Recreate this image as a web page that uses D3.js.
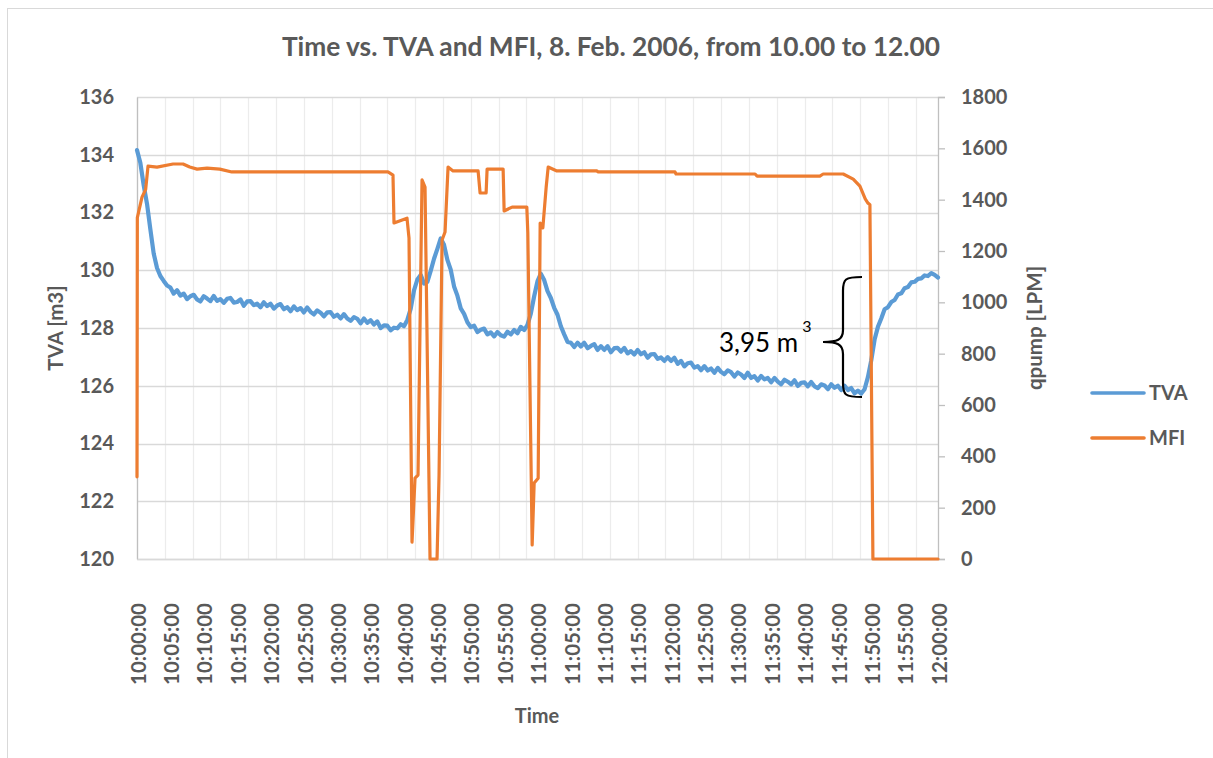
<!DOCTYPE html>
<html>
<head>
<meta charset="utf-8">
<script src="https://cdn.jsdelivr.net/npm/d3@7"></script>
<style>
  html, body { margin: 0; padding: 0; background: #fff; }
  svg { display: block; font-family: Lato, "Open Sans", sans-serif; }
</style>
</head>
<body>
<svg id="chart" width="1213" height="758"></svg>
<script>
// Minutes after 10:00, one TVA sample every 30 seconds (0 .. 120 min)
const tvaStep = 0.5;
const tvaValues = [
  134.16, 133.72, 132.95, 132.30, 131.42, 130.58, 130.08, 129.80, 129.63, 129.47,
  129.40, 129.19, 129.31, 129.12, 129.19, 129.00, 129.10, 129.15, 128.99, 128.92,
  129.10, 129.02, 128.93, 129.11, 128.94, 129.00, 128.87, 129.01, 129.04, 128.88,
  128.90, 128.99, 128.77, 128.92, 128.93, 128.79, 128.84, 128.72, 128.89, 128.76,
  128.84, 128.67, 128.78, 128.83, 128.65, 128.72, 128.58, 128.75, 128.62, 128.69,
  128.54, 128.71, 128.56, 128.47, 128.61, 128.53, 128.40, 128.54, 128.55, 128.39,
  128.46, 128.33, 128.48, 128.33, 128.25, 128.38, 128.32, 128.16, 128.33, 128.18,
  128.27, 128.12, 128.23, 128.00, 128.09, 128.08, 127.92, 128.01, 127.99, 128.13,
  128.06, 128.28, 128.66, 129.30, 129.68, 129.84, 129.54, 129.60, 129.98, 130.40,
  130.74, 131.10, 130.88, 130.36, 130.02, 129.44, 129.12, 128.68, 128.49, 128.20,
  128.03, 128.08, 127.86, 127.94, 127.98, 127.78, 127.85, 127.71, 127.86, 127.75,
  127.70, 127.87, 127.78, 127.93, 127.82, 128.04, 127.93, 128.11, 128.50, 129.10,
  129.62, 129.88, 129.66, 129.28, 129.04, 128.70, 128.46, 128.06, 127.78, 127.52,
  127.49, 127.34, 127.49, 127.36, 127.49, 127.30, 127.38, 127.44, 127.24, 127.37,
  127.24, 127.37, 127.16, 127.30, 127.31, 127.18, 127.31, 127.12, 127.20, 127.08,
  127.24, 127.09, 127.16, 126.97, 127.09, 127.10, 126.93, 126.98, 126.86, 126.99,
  126.86, 126.97, 126.76, 126.86, 126.67, 126.78, 126.80, 126.63, 126.68, 126.54,
  126.68, 126.53, 126.60, 126.45, 126.62, 126.48, 126.40, 126.53, 126.47, 126.32,
  126.46, 126.39, 126.27, 126.45, 126.27, 126.33, 126.18, 126.34, 126.22, 126.27,
  126.12, 126.27, 126.14, 126.05, 126.21, 126.14, 126.05, 126.19, 125.99, 126.10,
  126.12, 125.98, 126.13, 125.98, 125.92, 126.05, 126.01, 125.88, 126.05, 125.93,
  126.00, 125.85, 126.00, 125.85, 125.92, 125.74, 125.83, 125.73, 125.88, 126.30,
  126.88, 127.60, 128.04, 128.33, 128.65, 128.72, 128.90, 128.97, 129.16, 129.20,
  129.38, 129.42, 129.58, 129.60, 129.70, 129.72, 129.82, 129.80, 129.90, 129.84,
  129.75
];

// MFI pump flow [LPM]: minutes after 10:00 and flow at each change point
const mfiTimes = [
  0, 0.05, 0.75, 1.3, 1.65, 3.0, 5.4, 6.9, 7.9, 9.0, 10.5, 12.4, 14.2,
  37.6, 38.35, 38.5, 40.45, 40.75, 41.2, 41.65, 42.1, 42.7, 43.15, 43.9,
  44.95, 45.25, 45.7, 46.15, 46.6, 47.35, 51.1, 51.4, 52.3, 52.45, 54.85,
  55.0, 56.2, 58.4, 58.55, 59.2, 59.5, 60.1, 60.4, 60.8, 61.3, 61.6, 62.9,
  68.9, 69.05, 80.6, 80.75, 92.6, 92.9, 102.3, 102.8, 105.8, 107.3, 108.3,
  109.1, 109.5, 109.8, 110.25, 120
];
const mfiValues = [
  320, 1330, 1410, 1440, 1531, 1527, 1539, 1539, 1527, 1519, 1523, 1519, 1508,
  1508, 1496, 1309, 1328, 1250, 66, 315, 327, 1477, 1449, 0,
  0, 327, 1243, 1274, 1527, 1512, 1512, 1426, 1426, 1519, 1519,
  1356, 1371, 1371, 1270, 55, 296, 315, 1309, 1290, 1449, 1527, 1512,
  1512, 1508, 1508, 1500, 1500, 1492, 1492, 1500, 1500, 1480, 1453,
  1403, 1387, 1380, 0, 0
];

const leftTicks = [120, 122, 124, 126, 128, 130, 132, 134, 136];
const rightTicks = [0, 200, 400, 600, 800, 1000, 1200, 1400, 1600, 1800];
const timeTicks = d3.range(0, 121, 5);          // minutes, one label every 5 min
const gridMinutes = d3.range(0, 120.01, 25 / 6); // category gridlines every 250 s

const titleText = "Time vs. TVA and MFI, 8. Feb. 2006, from 10.00 to 12.00";
const seriesNames = ["TVA", "MFI"];
const seriesColors = ["#5b9bd5", "#ed7d31"];

const tvaData = tvaValues.map((v, i) => ({ t: i * tvaStep, v }));
const mfiData = mfiTimes.map((t, i) => ({ t, v: mfiValues[i] }));

const svg = d3.select("#chart");
const plot = { left: 137, right: 938, top: 97, bottom: 559 };
const textColor = "#595959";
const font = "Lato, sans-serif";

// chart frame
svg.append("rect")
  .attr("x", 7.5).attr("y", 8.5)
  .attr("width", 1230).attr("height", 780)
  .attr("fill", "#fff").attr("stroke", "#d9d9d9").attr("stroke-width", 1);

const x = d3.scaleLinear().domain([0, 120]).range([plot.left, plot.right]);
const yL = d3.scaleLinear().domain([120, 136]).range([plot.bottom, plot.top]);
const yR = d3.scaleLinear().domain([0, 1800]).range([plot.bottom, plot.top]);

// vertical gridlines
svg.append("g")
  .selectAll("line").data(gridMinutes).join("line")
  .attr("x1", d => Math.round(x(d)) + 0.5).attr("x2", d => Math.round(x(d)) + 0.5)
  .attr("y1", plot.top).attr("y2", plot.bottom)
  .attr("stroke", "#ececec").attr("stroke-width", 1.2);

// horizontal gridlines
svg.append("g")
  .selectAll("line").data(leftTicks).join("line")
  .attr("x1", plot.left).attr("x2", plot.right)
  .attr("y1", d => Math.round(yL(d)) + 0.5).attr("y2", d => Math.round(yL(d)) + 0.5)
  .attr("stroke", "#d9d9d9").attr("stroke-width", 1.3);

// left axis
const gL = svg.append("g").attr("transform", `translate(${plot.left},0)`)
  .call(d3.axisLeft(yL).tickValues(leftTicks).tickSize(0).tickPadding(23).tickFormat(d3.format("d")));
gL.select(".domain").attr("stroke", "#bfbfbf").attr("stroke-width", 1.3);
gL.selectAll("text").attr("fill", textColor).attr("font-size", 20).attr("font-weight", 700)
  .attr("font-family", font);

// right axis
const gR = svg.append("g").attr("transform", `translate(${plot.right},0)`)
  .call(d3.axisRight(yR).tickValues(rightTicks).tickSize(7).tickPadding(16).tickFormat(d3.format("d")));
gR.select(".domain").attr("stroke", "#bfbfbf").attr("stroke-width", 1.3);
gR.selectAll(".tick line").attr("stroke", "#bfbfbf").attr("stroke-width", 1.3);
gR.selectAll("text").attr("fill", textColor).attr("font-size", 20).attr("font-weight", 700)
  .attr("font-family", font);

// bottom axis
const fmtTime = m => {
  const h = 10 + Math.floor(m / 60), mm = m % 60;
  return `${h}:${String(mm).padStart(2, "0")}:00`;
};
const gB = svg.append("g").attr("transform", `translate(0,${plot.bottom})`)
  .call(d3.axisBottom(x).tickValues(timeTicks).tickSize(0).tickFormat(fmtTime));
gB.select(".domain").attr("stroke", "#d9d9d9").attr("stroke-width", 1.3);
gB.selectAll("text")
  .attr("fill", textColor).attr("font-size", 20.5).attr("font-weight", 700)
  .attr("font-family", font)
  .attr("text-anchor", "end")
  .attr("transform", "translate(1,44) rotate(-90)")
  .attr("x", 0).attr("y", 0).attr("dy", "0.35em");

// series
const tvaLine = d3.line().x(d => x(d.t)).y(d => yL(d.v));
const mfiLine = d3.line().x(d => x(d.t)).y(d => yR(d.v));

svg.append("path").datum(tvaData)
  .attr("d", tvaLine).attr("fill", "none")
  .attr("stroke", seriesColors[0]).attr("stroke-width", 4.2)
  .attr("stroke-linejoin", "round").attr("stroke-linecap", "round");

svg.append("path").datum(mfiData)
  .attr("d", mfiLine).attr("fill", "none")
  .attr("stroke", seriesColors[1]).attr("stroke-width", 3.2)
  .attr("stroke-linejoin", "round").attr("stroke-linecap", "round");

// title
svg.append("text").attr("x", 611).attr("y", 56).attr("text-anchor", "middle")
  .attr("fill", textColor).attr("font-size", 26.3).attr("font-weight", 700)
  .text(titleText);

// axis titles
svg.append("text").attr("transform", "translate(63,328) rotate(-90)")
  .attr("text-anchor", "middle").attr("fill", textColor)
  .attr("font-size", 20.5).attr("font-weight", 700).text("TVA [m3]");
svg.append("text").attr("transform", "translate(1042,328) rotate(-90)")
  .attr("text-anchor", "middle").attr("fill", textColor)
  .attr("font-size", 20.5).attr("font-weight", 700).text("qpump [LPM]");
svg.append("text").attr("x", 537).attr("y", 723)
  .attr("text-anchor", "middle").attr("fill", textColor)
  .attr("font-size", 20).attr("font-weight", 700).text("Time");

// legend
const legend = svg.append("g");
seriesNames.forEach((name, i) => {
  const ly = 393 + i * 45;
  legend.append("line").attr("x1", 1092).attr("x2", 1144)
    .attr("y1", ly).attr("y2", ly)
    .attr("stroke", seriesColors[i]).attr("stroke-width", 3.6).attr("stroke-linecap", "round");
  legend.append("text").attr("x", 1149).attr("y", ly).attr("dy", "0.35em")
    .attr("fill", textColor).attr("font-size", 20).attr("font-weight", 700).text(name);
});

// bracket marking the drop in tank volume, with its label
const bx = 843, bTop = 277, bBot = 397, bMid = 342, bTip = 823;
svg.append("path")
  .attr("d", `M${bx + 19},${bTop} C${bx + 2},${bTop} ${bx},${bTop + 2} ${bx},${bTop + 14}
              L${bx},${bMid - 12} C${bx},${bMid - 2} ${bx - 6},${bMid} ${bTip},${bMid}
              C${bx - 6},${bMid} ${bx},${bMid + 2} ${bx},${bMid + 12}
              L${bx},${bBot - 14} C${bx},${bBot - 2} ${bx + 2},${bBot} ${bx + 19},${bBot}`)
  .attr("fill", "none").attr("stroke", "#000").attr("stroke-width", 2.2);

const ann = svg.append("text").attr("x", 719).attr("y", 352)
  .attr("fill", "#000").attr("font-size", 26).attr("font-family", font);
ann.append("tspan").text("3,95 m");
ann.append("tspan").attr("font-size", 16).attr("dx", 4).attr("dy", -20).text("3");
</script>
</body>
</html>
